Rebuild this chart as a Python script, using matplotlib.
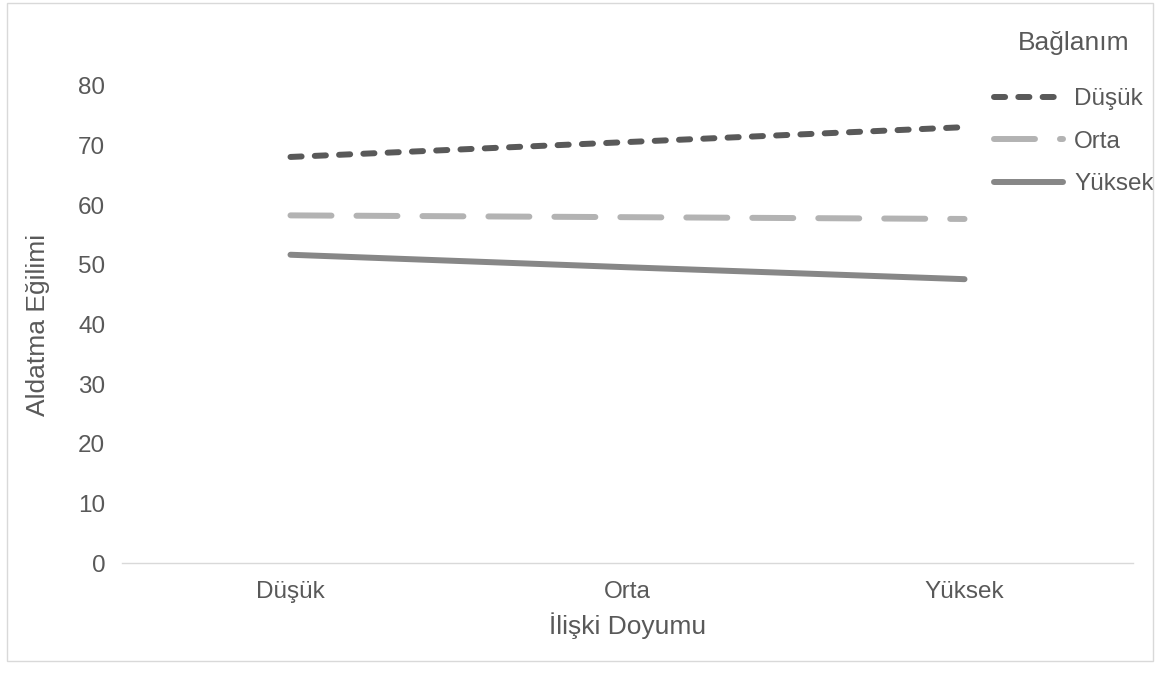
import matplotlib
matplotlib.use("Agg")
import matplotlib.pyplot as plt
from matplotlib.patches import Rectangle

plt.rcParams['font.family'] = ['Liberation Sans', 'DejaVu Sans']
plt.rcParams['lines.scale_dashes'] = False

categories = ['Düşük', 'Orta', 'Yüksek']
series_names = ['Düşük', 'Orta', 'Yüksek']
dusuk = [68.1, 70.6, 73.1]
orta = [58.3, 58.0, 57.7]
yuksek = [51.7, 49.6, 47.6]

colors = ['#595959', '#b3b3b3', '#878787']
dash_styles = [(0, (8, 9.5)), (0, (29.5, 18)), '-']

fig = plt.figure(figsize=(11.6, 6.75), dpi=100)
ax = fig.add_axes([122 / 1160, 112 / 675, 1011 / 1160, 477 / 675])

x = range(len(categories))
for vals, name, c, ls in zip([dusuk, orta, yuksek], series_names, colors, dash_styles):
    ax.plot(x, vals, color=c, linestyle=ls, linewidth=4.3,
            dash_capstyle='round', solid_capstyle='round', label=name)

ax.set_xlim(-0.5, 2.5)
ax.set_ylim(0, 80)
ax.set_yticks(range(0, 81, 10))
ax.set_xticks(list(x))
ax.set_xticklabels(categories)
ax.tick_params(length=0, labelsize=17.5, colors='#595959')
ax.tick_params(axis='y', pad=12)
ax.tick_params(axis='x', pad=13)
for s in ['top', 'right', 'left']:
    ax.spines[s].set_visible(False)
ax.spines['bottom'].set_color('#d9d9d9')
ax.spines['bottom'].set_linewidth(1)

ax.set_ylabel('Aldatma Eğilimi', fontsize=19, color='#595959', labelpad=20)
ax.set_xlabel('İlişki Doyumu', fontsize=19, color='#595959', labelpad=7)

leg = ax.legend(loc='upper left', bbox_to_anchor=(994 / 1160, 1 - 31 / 675),
                bbox_transform=fig.transFigure, frameon=False, fontsize=17.5,
                title='Bağlanım', title_fontsize=19, handlelength=2.85,
                handletextpad=0.45, labelspacing=0.84, borderpad=0,
                borderaxespad=0)
leg.get_title().set_color('#595959')
leg._legend_box.sep = 24
for t in leg.get_texts():
    t.set_color('#595959')

fig.patches.append(Rectangle((7 / 1160, 1 - 661 / 675), 1146 / 1160, 658 / 675,
                             transform=fig.transFigure, fill=False,
                             edgecolor='#d9d9d9', linewidth=1))

fig.savefig('out.png', dpi=100)
